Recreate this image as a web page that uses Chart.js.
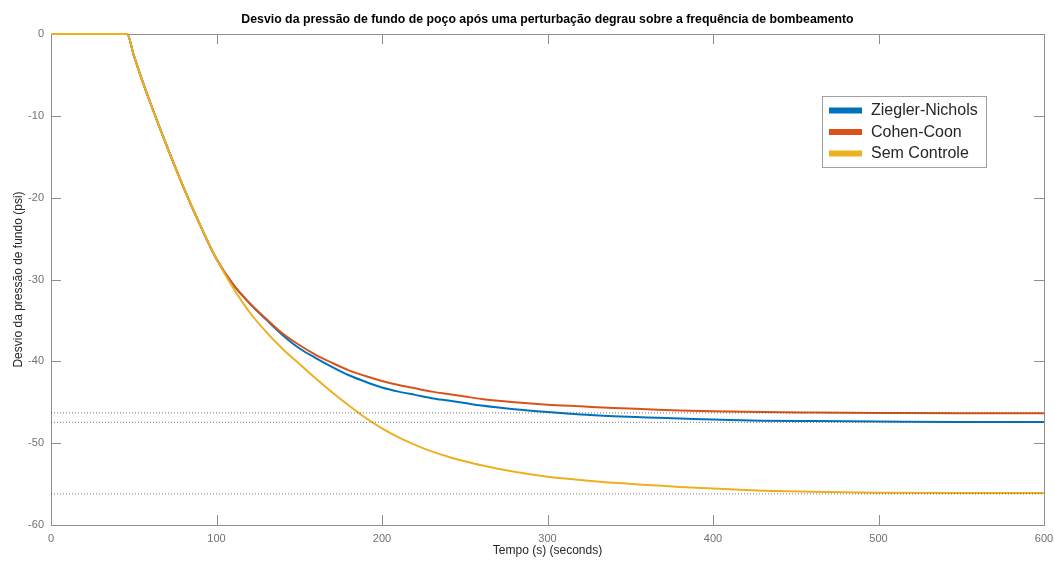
<!DOCTYPE html>
<html>
<head>
<meta charset="utf-8">
<script src="https://cdn.jsdelivr.net/npm/chart.js@4.4.1/dist/chart.umd.min.js"></script>
<style>
  html, body { margin: 0; padding: 0; background: #ffffff; }
  #wrap { width: 1054px; height: 561px; position: relative; }
</style>
</head>
<body>
<div id="wrap"><canvas id="c"></canvas></div>
<script>
// Sample instants (s)
const timeSec = [0, 20, 40, 46, 50, 55, 60, 70, 80, 90, 100, 110, 120, 130, 140, 150, 160, 170, 180, 190, 200,
                 210, 220, 230, 240, 250, 260, 280, 300, 320, 340, 360, 380, 400, 430, 460, 500, 550, 600];

// Bottom-hole pressure deviation (psi) for each controller
const zieglerNichols = [0, 0, 0, 0, -2.6, -5.6, -8.4, -13.7, -18.7, -23.3, -27.5, -30.6, -32.9, -34.9, -36.8, -38.4,
                        -39.6, -40.7, -41.7, -42.5, -43.2, -43.7, -44.1, -44.5, -44.8, -45.1, -45.4, -45.85, -46.2,
                        -46.5, -46.7, -46.85, -47.0, -47.1, -47.25, -47.3, -47.35, -47.4, -47.4];
const cohenCoon = [0, 0, 0, 0, -2.6, -5.6, -8.4, -13.7, -18.7, -23.3, -27.5, -30.6, -32.9, -34.8, -36.6, -38.0,
                   -39.2, -40.2, -41.1, -41.8, -42.4, -42.9, -43.3, -43.7, -44.0, -44.3, -44.6, -45.0, -45.3,
                   -45.5, -45.7, -45.85, -46.0, -46.1, -46.2, -46.25, -46.3, -46.35, -46.35];
const semControle = [0, 0, 0, 0, -2.6, -5.6, -8.4, -13.7, -18.7, -23.3, -27.5, -31.0, -34.0, -36.4, -38.5, -40.3,
                     -42.1, -43.8, -45.4, -46.9, -48.2, -49.3, -50.2, -51.0, -51.65, -52.2, -52.7, -53.5, -54.1,
                     -54.5, -54.85, -55.1, -55.35, -55.55, -55.8, -55.95, -56.05, -56.1, -56.1];

// Steady-state reference levels (dotted)
const steadyLevels = [-46.3, -47.45, -56.2];

const seriesNames = ['Ziegler-Nichols', 'Cohen-Coon', 'Sem Controle'];
const seriesColors = ['#0072BD', '#D95319', '#EDB120'];
const xTicks = [0, 100, 200, 300, 400, 500, 600];
const yTicks = [-60, -50, -40, -30, -20, -10, 0];

const chartTitle = 'Desvio da pressão de fundo de poço após uma perturbação degrau sobre a frequência de bombeamento';
const xTitle = 'Tempo (s) (seconds)';
const yTitle = 'Desvio da pressão de fundo (psi)';

const FONT = '"Liberation Sans", Arial, Helvetica, sans-serif';
const AXIS_COLOR = '#8e8e8e';

function toPoints(values) {
  return values.map((v, i) => ({ x: timeSec[i], y: v }));
}

const seriesValues = [zieglerNichols, cohenCoon, semControle];

const datasets = [];
// last-plotted series on top
seriesValues.forEach((vals, i) => {
  datasets.push({
    label: seriesNames[i],
    data: toPoints(vals),
    borderColor: seriesColors[i],
    backgroundColor: seriesColors[i],
    borderWidth: 2,
    pointRadius: 0,
    cubicInterpolationMode: 'monotone',
    fill: false,
    clip: 4,
    order: 10 - i
  });
});
steadyLevels.forEach((lvl) => {
  datasets.push({
    label: '_ref',
    data: [{ x: 0, y: lvl }, { x: 600, y: lvl }],
    borderColor: 'rgba(70,70,70,0.75)',
    borderWidth: 1,
    borderDash: [1, 2],
    pointRadius: 0,
    fill: false,
    order: 0
  });
});

// Box, inward ticks, title and legend
const matlabFrame = {
  id: 'matlabFrame',
  beforeDatasetsDraw(chart) {
    const { ctx, chartArea: a, scales } = chart;
    const xs = scales.x, ys = scales.y;
    ctx.save();
    ctx.strokeStyle = AXIS_COLOR;
    ctx.lineWidth = 1;
    ctx.beginPath();
    ctx.rect(Math.round(a.left) + 0.5, Math.round(a.top) + 0.5,
             Math.round(a.right - a.left), Math.round(a.bottom - a.top));
    ctx.stroke();
    const tl = 10;
    ctx.beginPath();
    xTicks.forEach(v => {
      const px = Math.round(xs.getPixelForValue(v)) + 0.5;
      ctx.moveTo(px, a.bottom); ctx.lineTo(px, a.bottom - tl);
      ctx.moveTo(px, a.top); ctx.lineTo(px, a.top + tl);
    });
    yTicks.forEach(v => {
      const py = Math.round(ys.getPixelForValue(v)) + 0.5;
      ctx.moveTo(a.left, py); ctx.lineTo(a.left + tl, py);
      ctx.moveTo(a.right, py); ctx.lineTo(a.right - tl, py);
    });
    ctx.stroke();

    // title
    ctx.fillStyle = '#000000';
    ctx.font = 'bold 12.3px ' + FONT;
    ctx.textAlign = 'center';
    ctx.textBaseline = 'middle';
    ctx.fillText(chartTitle, (a.left + a.right) / 2, 19.5);
    ctx.restore();
  },
  afterDatasetsDraw(chart) {
    const { ctx } = chart;
    ctx.save();
    // legend
    const lx = 822, ly = 96, lw = 164, lh = 71;
    ctx.fillStyle = '#ffffff';
    ctx.fillRect(lx, ly, lw, lh);
    ctx.strokeStyle = '#a0a0a0';
    ctx.lineWidth = 1;
    ctx.strokeRect(lx + 0.5, ly + 0.5, lw, lh);
    ctx.font = '16px ' + FONT;
    ctx.textAlign = 'left';
    ctx.textBaseline = 'middle';
    seriesNames.forEach((name, i) => {
      const cy = 110.5 + i * 21.5;
      ctx.strokeStyle = seriesColors[i];
      ctx.lineWidth = 6;
      ctx.beginPath();
      ctx.moveTo(829, cy); ctx.lineTo(862, cy);
      ctx.stroke();
      ctx.fillStyle = '#262626';
      ctx.fillText(name, 871, cy + 0.5);
    });
    ctx.restore();
  }
};

new Chart(document.getElementById('c'), {
  type: 'line',
  data: { datasets },
  plugins: [matlabFrame],
  options: {
    responsive: true,
    maintainAspectRatio: false,
    animation: false,
    layout: { padding: { left: 0, right: 10, top: 34, bottom: 0 } },
    plugins: {
      legend: { display: false },
      title: { display: false },
      tooltip: { enabled: false }
    },
    scales: {
      x: {
        type: 'linear',
        min: 0, max: 600,
        afterBuildTicks(scale) { scale.ticks = xTicks.map(v => ({ value: v })); },
        afterFit(scale) { scale.height = 36; scale.paddingLeft = 0; scale.paddingRight = 0; },
        grid: { display: false, drawTicks: false },
        border: { display: true, color: AXIS_COLOR },
        ticks: { color: '#707070', font: { family: FONT, size: 11 }, padding: 7, maxRotation: 0 },
        title: { display: true, text: xTitle, color: '#262626', font: { family: FONT, size: 12 },
                 padding: { top: 0, bottom: 2.8 } }
      },
      y: {
        type: 'linear',
        min: -60, max: 0,
        afterBuildTicks(scale) { scale.ticks = yTicks.map(v => ({ value: v })); },
        afterFit(scale) { scale.width = 51; scale.paddingTop = 0; scale.paddingBottom = 0; },
        grid: { display: false, drawTicks: false },
        border: { display: true, color: AXIS_COLOR },
        ticks: { color: '#707070', font: { family: FONT, size: 11 }, padding: 7 },
        title: { display: true, text: yTitle, color: '#262626', font: { family: FONT, size: 12 },
                 padding: { top: 11.8, bottom: 0 } }
      }
    }
  }
});
</script>
</body>
</html>
